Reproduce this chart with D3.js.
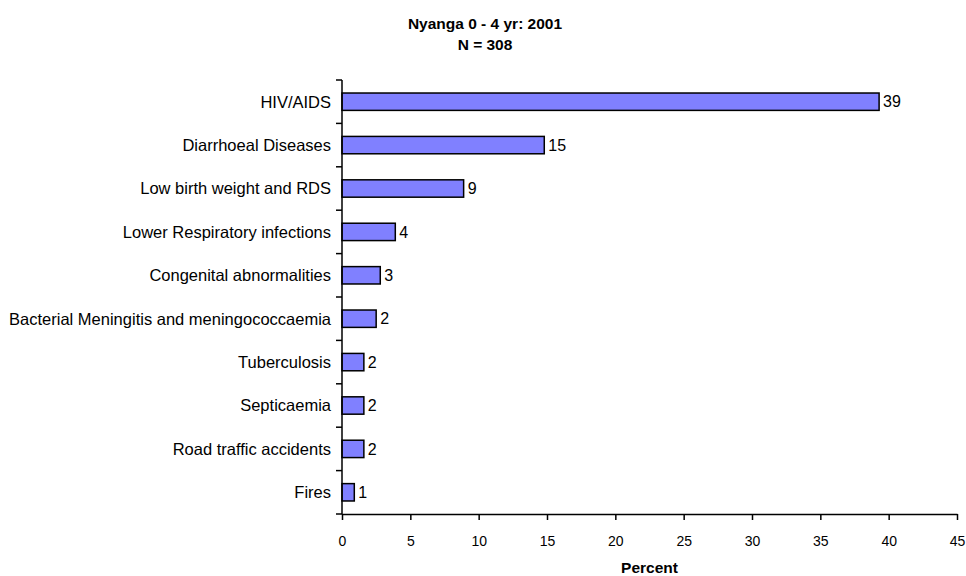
<!DOCTYPE html>
<html>
<head>
<script src="https://d3js.org/d3.v7.min.js"></script>
<style>
  body { margin: 0; background: #fff; font-family: Arial, "Liberation Sans", sans-serif; }
  .bar { fill: #8080ff; stroke: #000; stroke-width: 1.5px; }
  .axis path, .axis line { stroke: #000; stroke-width: 1.5px; }
  .axis text { font-family: Arial, "Liberation Sans", sans-serif; fill: #000; }
</style>
</head>
<body>
<script>
// chart data
var categories = ["HIV/AIDS", "Diarrhoeal Diseases", "Low birth weight and RDS",
  "Lower Respiratory infections", "Congenital abnormalities",
  "Bacterial Meningitis and meningococcaemia", "Tuberculosis", "Septicaemia",
  "Road traffic accidents", "Fires"];
var percents = [39.3, 14.8, 8.9, 3.9, 2.8, 2.5, 1.6, 1.6, 1.6, 0.9];
var valueLabels = ["39", "15", "9", "4", "3", "2", "2", "2", "2", "1"];
var xTicks = [0, 5, 10, 15, 20, 25, 30, 35, 40, 45];
var titleLines = ["Nyanga 0 - 4 yr: 2001", "N = 308"];

var data = categories.map(function(c, i) {
  return { cat: c, val: percents[i], label: valueLabels[i] };
});

var W = 966, H = 576;
var margin = { top: 80, right: 9, bottom: 62, left: 342 };
var width = W - margin.left - margin.right,
    height = H - margin.top - margin.bottom;

var svg = d3.select("body").append("svg")
  .attr("width", W).attr("height", H);

var g = svg.append("g")
  .attr("transform", "translate(" + margin.left + "," + margin.top + ")");

var x = d3.scaleLinear().domain([0, 45]).range([0, width]);
var y = d3.scaleBand().domain(categories).range([0, height]).paddingInner(0.6).paddingOuter(0.3);

// title
svg.selectAll(".title")
  .data(titleLines)
  .enter().append("text")
  .attr("x", 485)
  .attr("y", function(d, i) { return 29 + i * 21; })
  .attr("text-anchor", "middle")
  .style("font-size", "15.5px")
  .style("font-weight", "bold")
  .text(function(d) { return d; });

// bars
g.selectAll(".bar")
  .data(data)
  .enter().append("rect")
  .attr("class", "bar")
  .attr("x", x(0))
  .attr("y", function(d) { return y(d.cat); })
  .attr("width", function(d) { return x(d.val) - x(0); })
  .attr("height", y.bandwidth());

// value labels
g.selectAll(".val")
  .data(data)
  .enter().append("text")
  .attr("x", function(d) { return x(d.val) + 4; })
  .attr("y", function(d) { return y(d.cat) + y.bandwidth() / 2; })
  .attr("dy", "0.36em")
  .style("font-size", "16px")
  .text(function(d) { return d.label; });

// y axis: labels only, ticks between categories
var yAxis = g.append("g").attr("class", "axis")
  .call(d3.axisLeft(y).tickSize(0).tickPadding(11));
yAxis.select(".domain").remove();
yAxis.selectAll("text").style("font-size", "16.5px").attr("dy", "0.36em");

var boundaries = d3.range(categories.length + 1).map(function(i) { return i * (height / categories.length); });
g.append("g").attr("class", "axis")
  .selectAll("line")
  .data(boundaries)
  .enter().append("line")
  .attr("x1", -6).attr("x2", 0)
  .attr("y1", function(d) { return d; })
  .attr("y2", function(d) { return d; });
g.append("line")
  .attr("x1", 0).attr("x2", 0).attr("y1", 0).attr("y2", height)
  .style("stroke", "#000").style("stroke-width", "1.5px");

// x axis
var xAxis = g.append("g").attr("class", "axis")
  .attr("transform", "translate(0," + height + ")")
  .call(d3.axisBottom(x).tickValues(xTicks).tickSize(6).tickSizeOuter(0).tickPadding(16));
xAxis.selectAll("text").style("font-size", "14px");

svg.append("text")
  .attr("x", margin.left + x(22.5))
  .attr("y", 573)
  .attr("text-anchor", "middle")
  .style("font-size", "15.5px")
  .style("font-weight", "bold")
  .text("Percent");
</script>
</body>
</html>
